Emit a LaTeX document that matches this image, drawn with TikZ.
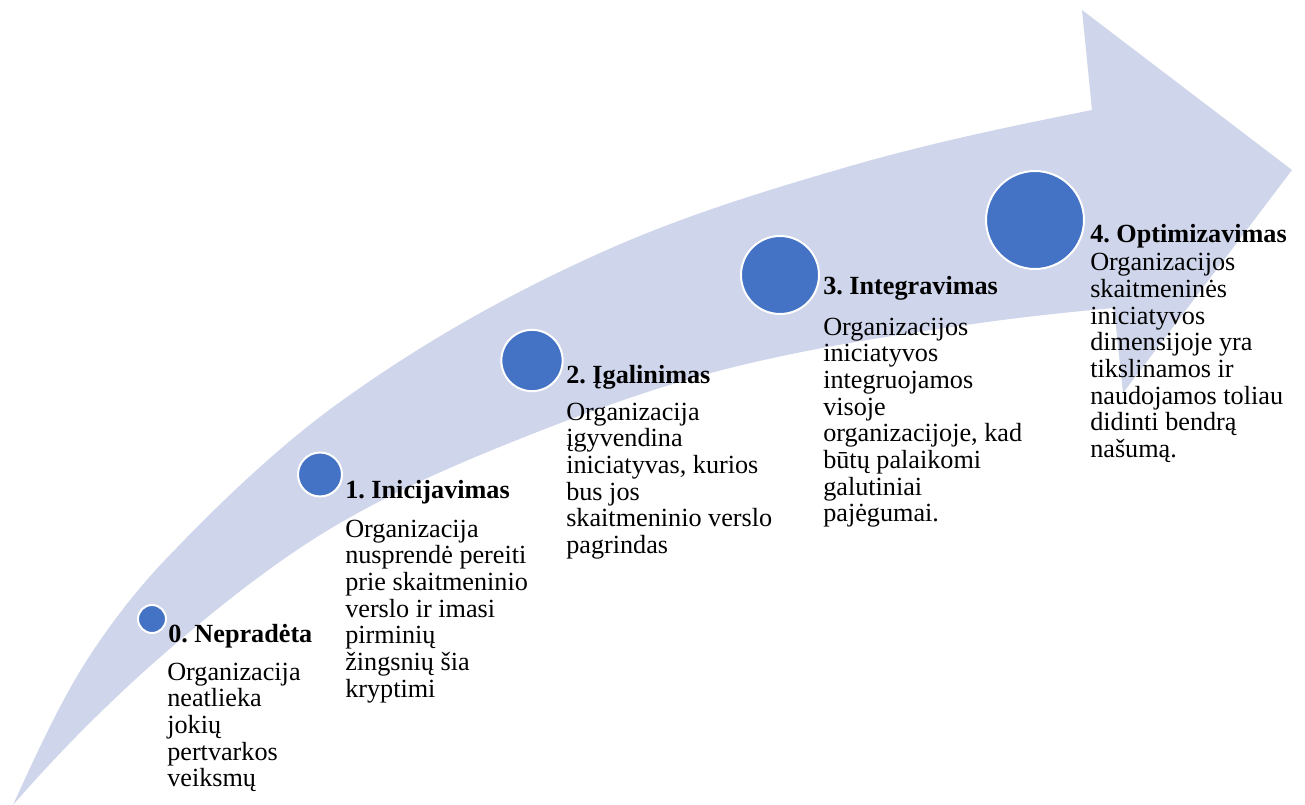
\documentclass[tikz,border=0pt]{standalone}
\usepackage{fontspec}
\setmainfont{Liberation Serif}
\frenchspacing
\definecolor{shaft}{RGB}{207,213,234}
\definecolor{dotblue}{RGB}{68,114,196}
\begin{document}
\begin{tikzpicture}[x=0.75pt,y=-0.75pt,
  stagedot/.style={circle, fill=dotblue, draw=white, line width=1.5pt, inner sep=0pt},
  stagetitle/.style={anchor=base west, inner sep=0pt, font=\fontsize{19.65pt}{20pt}\selectfont\bfseries},
  stagetext/.style={anchor=base west, inner sep=0pt, font=\fontsize{19.65pt}{20pt}\selectfont}]
\useasboundingbox (0,0) rectangle (1305,805);

% curved progress arrow: upper edge, head, lower edge back to the tail
\fill[shaft] (13,805)
  .. controls (37.67,750.7) and (62.33,698.2) .. (87,660)
  .. controls (113,619.7) and (139,587.3) .. (165,560)
  .. controls (223.3,498.75) and (281.67,444) .. (340,402)
  .. controls (426.67,339.6) and (513.33,292) .. (600,253)
  .. controls (682.33,215.95) and (764.67,190.9) .. (847,167)
  .. controls (928.67,143.3) and (1010.33,126.3) .. (1092,110)
  -- (1082,10) -- (1292,170) -- (1123,393) -- (1114,308)
  .. controls (1069.33,312) and (1024.67,316.75) .. (980,323)
  .. controls (896.67,334.7) and (813.33,347.2) .. (730,368)
  .. controls (659,385.75) and (588,411.6) .. (517,440)
  .. controls (458,463.6) and (399,488.8) .. (340,523)
  .. controls (286.67,553.9) and (233.33,594.7) .. (180,640)
  .. controls (124.33,687.3) and (68.67,741) .. (13,805)
  -- cycle;

% stage markers
\node[stagedot, minimum size=21pt]   (c0) at (152,619)   {};
\node[stagedot, minimum size=33pt]   (c1) at (320,474.5) {};
\node[stagedot, minimum size=46pt]   (c2) at (532,360.5) {};
\node[stagedot, minimum size=58.5pt] (c3) at (780,275)   {};
\node[stagedot, minimum size=73.5pt] (c4) at (1035,220)  {};

% stage titles
\node[stagetitle] (t0) at (168,642)  {0. Nepradėta};
\node[stagetitle] (t1) at (345,498)  {1. Inicijavimas};
\node[stagetitle] (t2) at (566,383)  {2. Įgalinimas};
\node[stagetitle] (t3) at (823,295)  {3. Integravimas};
\node[stagetitle] (t4) at (1090,243) {4. Optimizavimas};

% stage descriptions
\node[stagetext] (d0) at (167,680) {\begin{tabular}[t]{@{}l@{}}Organizacija\\neatlieka\\jokių\\pertvarkos\\veiksmų\end{tabular}};
\node[stagetext] (d1) at (345,537) {\begin{tabular}[t]{@{}l@{}}Organizacija\\nusprendė pereiti\\prie skaitmeninio\\verslo ir imasi\\pirminių\\žingsnių šia\\kryptimi\end{tabular}};
\node[stagetext] (d2) at (566,420) {\begin{tabular}[t]{@{}l@{}}Organizacija\\įgyvendina\\iniciatyvas, kurios\\bus jos\\skaitmeninio verslo\\pagrindas\end{tabular}};
\node[stagetext] (d3) at (823,335) {\begin{tabular}[t]{@{}l@{}}Organizacijos\\iniciatyvos\\integruojamos\\visoje\\organizacijoje, kad\\būtų palaikomi\\galutiniai\\pajėgumai.\end{tabular}};
\node[stagetext] (d4) at (1090,271) {\begin{tabular}[t]{@{}l@{}}Organizacijos\\skaitmeninės\\iniciatyvos\\dimensijoje yra\\tikslinamos ir\\naudojamos toliau\\didinti bendrą\\našumą.\end{tabular}};
\end{tikzpicture}
\end{document}
